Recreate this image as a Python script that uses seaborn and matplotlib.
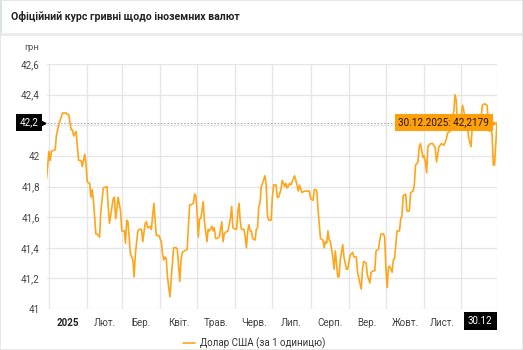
import matplotlib
matplotlib.use("Agg")
import matplotlib.pyplot as plt
import matplotlib.transforms as mtransforms
import matplotlib.dates as mdates
from matplotlib.patches import Rectangle
import pandas as pd
import seaborn as sns

TITLE = "Офіційний курс гривні щодо іноземних валют"
UNIT = "грн"
SERIES_NAME = "Долар США (за 1 одиницю)"
YEAR_START = "2025-01-01"

# day offsets from 1 January 2025 and the official UAH/USD rate on that day
day_offsets = [
    -2, 0, 1, 2, 5, 6, 8, 9, 11, 14,
    15, 16, 18, 19, 20, 22, 23, 24, 26, 27,
    29, 30, 31, 33, 34, 35, 36, 38, 39, 41,
    42, 44, 47, 48, 49, 50, 52, 53, 54, 55,
    56, 58, 59, 61, 62, 63, 64, 66, 67, 68,
    69, 70, 72, 73, 75, 76, 78, 79, 80, 82,
    83, 84, 85, 86, 87, 89, 91, 92, 93, 94,
    95, 96, 98, 99, 101, 103, 104, 106, 107, 108,
    110, 112, 113, 114, 115, 117, 118, 119, 120, 121,
    122, 123, 125, 126, 128, 129, 130, 132, 133, 134,
    135, 136, 138, 140, 141, 142, 143, 145, 147, 148,
    149, 151, 152, 153, 154, 155, 156, 158, 159, 160,
    161, 162, 163, 164, 165, 167, 168, 169, 170, 171,
    172, 173, 175, 176, 177, 178, 180, 181, 182, 184,
    185, 186, 188, 189, 191, 192, 193, 195, 196, 197,
    198, 199, 201, 202, 203, 205, 207, 209, 211, 212,
    214, 215, 216, 217, 218, 220, 222, 223, 224, 225,
    226, 227, 228, 230, 231, 232, 234, 235, 236, 238,
    239, 241, 242, 244, 246, 247, 249, 250, 253, 254,
    255, 257, 258, 260, 261, 263, 264, 265, 267, 268,
    269, 271, 272, 273, 274, 275, 276, 278, 279, 280,
    281, 282, 284, 285, 286, 287, 289, 290, 292, 293,
    295, 296, 297, 299, 300, 301, 303, 304, 305, 306,
    307, 309, 311, 313, 314, 315, 316, 318, 320, 321,
    322, 323, 325, 326, 328, 329, 330, 331, 332, 334,
    335, 336, 338, 339, 340, 342, 343, 345, 346, 347,
    349, 350, 351, 353, 355, 356, 357, 358, 359, 360,
    361, 362, 363,
]
rates = [
    41.85, 42.03, 41.97, 42.03, 42.04, 42.13, 42.21, 42.23, 42.28, 42.28,
    42.27, 42.27, 42.17, 42.17, 42.13, 42.16, 42.06, 41.97, 41.97, 41.93,
    42.01, 41.95, 41.83, 41.82, 41.73, 41.78, 41.71, 41.49, 41.49, 41.47,
    41.63, 41.79, 41.80, 41.67, 41.56, 41.61, 41.72, 41.73, 41.59, 41.65,
    41.73, 41.64, 41.51, 41.51, 41.43, 41.58, 41.57, 41.36, 41.34, 41.32,
    41.21, 41.36, 41.51, 41.52, 41.52, 41.44, 41.56, 41.57, 41.53, 41.54,
    41.52, 41.61, 41.69, 41.58, 41.48, 41.48, 41.44, 41.36, 41.32, 41.34,
    41.33, 41.21, 41.08, 41.19, 41.40, 41.40, 41.39, 41.18, 41.32, 41.37,
    41.38, 41.39, 41.55, 41.68, 41.68, 41.69, 41.75, 41.74, 41.63, 41.47,
    41.59, 41.59, 41.70, 41.57, 41.44, 41.52, 41.51, 41.54, 41.51, 41.53,
    41.46, 41.46, 41.47, 41.57, 41.44, 41.49, 41.50, 41.51, 41.59, 41.67,
    41.53, 41.52, 41.52, 41.63, 41.69, 41.57, 41.52, 41.52, 41.47, 41.40,
    41.51, 41.55, 41.51, 41.51, 41.46, 41.45, 41.52, 41.53, 41.67, 41.69,
    41.80, 41.82, 41.87, 41.81, 41.61, 41.58, 41.58, 41.73, 41.81, 41.81,
    41.73, 41.73, 41.78, 41.84, 41.80, 41.82, 41.79, 41.82, 41.81, 41.83,
    41.85, 41.87, 41.81, 41.77, 41.81, 41.76, 41.77, 41.77, 41.77, 41.72,
    41.71, 41.78, 41.78, 41.77, 41.65, 41.46, 41.45, 41.40, 41.44, 41.43,
    41.51, 41.45, 41.44, 41.34, 41.26, 41.38, 41.21, 41.21, 41.32, 41.42,
    41.34, 41.26, 41.26, 41.35, 41.37, 41.34, 41.34, 41.24, 41.13, 41.26,
    41.31, 41.30, 41.22, 41.17, 41.24, 41.25, 41.25, 41.38, 41.39, 41.45,
    41.49, 41.49, 41.47, 41.26, 41.14, 41.27, 41.28, 41.24, 41.32, 41.33,
    41.42, 41.51, 41.51, 41.59, 41.61, 41.74, 41.75, 41.64, 41.64, 41.76,
    41.77, 41.81, 41.94, 41.96, 42.06, 42.08, 41.99, 42.00, 41.96, 41.89,
    42.06, 42.08, 42.08, 42.05, 41.96, 42.01, 42.06, 42.08, 42.07, 42.09,
    42.11, 42.15, 42.16, 42.22, 42.29, 42.40, 42.36, 42.18, 42.22, 42.25,
    42.33, 42.30, 42.20, 42.20, 42.12, 42.06, 42.20, 42.22, 42.25, 42.22,
    42.25, 42.22, 42.33, 42.34, 42.33, 42.20, 42.16, 42.19, 42.14, 41.94,
    41.94, 42.08, 42.2179,
]

month_labels = ["2025", "Лют.", "Бер.", "Квіт.", "Трав.", "Черв.",
                "Лип.", "Серп.", "Вер.", "Жовт.", "Лист."]
y_ticks = [41.0, 41.2, 41.4, 41.6, 41.8, 42.0, 42.2, 42.4, 42.6]

LINE_COLOR = "#FFA51C"
TIP_COLOR = "#FF9F0A"

dates = pd.Timestamp(YEAR_START) + pd.to_timedelta(day_offsets, unit="D")
df = pd.DataFrame({"date": dates, "rate": rates})

sns.set_theme(style="white")
plt.rcParams["font.family"] = ["Roboto", "DejaVu Sans"]

W, H = 523, 350
fig = plt.figure(figsize=(W / 100, H / 100), dpi=100)
fig.patch.set_facecolor("white")

# card header: separator band, frame and accent
fig.add_artist(Rectangle((0, 1 - 36 / H), 1, 3 / H, transform=fig.transFigure,
                         facecolor="#ececec", edgecolor="none"))
fig.add_artist(Rectangle((0, 1 - 33 / H), 1.5 / W, 33 / H, transform=fig.transFigure,
                         facecolor="#d3e6da", edgecolor="none"))
fig.add_artist(Rectangle((0, 0), 1, 1, transform=fig.transFigure,
                         facecolor="none", edgecolor="#e2e2e2", lw=1.2))
fig.text(11 / W, 1 - 17 / H, TITLE, fontsize=7.6, fontweight="bold",
         color="#222222", va="center", ha="left")
fig.text(24 / W, 1 - 48 / H, UNIT, fontsize=6.8, color="#555555",
         va="center", ha="left")

left, right, top, bottom = 46.5, 497, 64, 309
ax = fig.add_axes([left / W, 1 - bottom / H, (right - left) / W, (bottom - top) / H])

sns.lineplot(data=df, x="date", y="rate", ax=ax, color=LINE_COLOR,
             linewidth=1.2, label=SERIES_NAME, zorder=3)

first_date, last_date = df["date"].iloc[0], df["date"].iloc[-1]
last_num = mdates.date2num(last_date)
last_rate = df["rate"].iloc[-1]
last_rate_short = f"{last_rate:.1f}".replace(".", ",")
ax.set_xlim(first_date, last_date)
ax.set_ylim(y_ticks[0], y_ticks[-1])

# month boundaries carry the grid, month middles carry the labels
month_starts = pd.date_range(YEAR_START, periods=12, freq="MS")
month_mids = [m + (m + pd.offsets.MonthBegin(1) - m) / 2 for m in month_starts[:len(month_labels)]]
ax.set_xticks(month_starts)
ax.set_xticklabels([""] * len(month_starts))
ax.set_xticks(month_mids, minor=True)
ax.set_xticklabels(month_labels, minor=True)
ax.set_yticks(y_ticks)
# the tick sitting under the crosshair badge is shown by the badge itself
y_labels = [f"{v:g}".replace(".", ",") for v in y_ticks]
y_labels = ["" if lab == last_rate_short else lab for lab in y_labels]
ax.set_yticklabels(y_labels)
ax.set_xlabel("")
ax.set_ylabel("")

ax.tick_params(axis="both", which="both", length=0, labelsize=7, colors="#444444")
ax.tick_params(axis="x", which="minor", pad=6.5)
ax.tick_params(axis="y", pad=4.8)
ax.xaxis.get_minorticklabels()[0].set_fontweight("bold")
ax.xaxis.get_minorticklabels()[0].set_color("#222222")

ax.grid(True, which="major", color="#e6e6e6", linewidth=1.0)
ax.grid(False, which="minor")
for s in ax.spines.values():
    s.set_visible(False)

# crosshair at the latest value
ax.axhline(last_rate, color="#b0b0b0", lw=0.8, ls=(0, (1.5, 1.5)), zorder=2)
ax.axvline(last_num, color="#b0b0b0", lw=0.8, ls=(0, (1.5, 1.5)), zorder=2)

ytrans = mtransforms.blended_transform_factory(ax.transAxes, ax.transData)
xtrans = mtransforms.blended_transform_factory(ax.transData, ax.transAxes)

ax.annotate(last_rate_short, xy=(0, last_rate), xycoords=ytrans,
            xytext=(-8, 0), textcoords="offset pixels", ha="right", va="center",
            fontsize=7, color="white", zorder=10, annotation_clip=False,
            bbox=dict(boxstyle="square,pad=0.4", fc="black", ec="none"))
ax.plot([0], [last_rate], marker=">", ms=3.5, color="black", clip_on=False, zorder=10,
        transform=mtransforms.offset_copy(ytrans, fig=fig, x=-3.5, y=0, units="dots"))

ax.annotate(f"{last_date:%d.%m}", xy=(last_num, 0), xycoords=xtrans,
            xytext=(-4.5, -12), textcoords="offset pixels", ha="right", va="center",
            fontsize=7, color="white", zorder=10, annotation_clip=False,
            bbox=dict(boxstyle="square,pad=0.45", fc="black", ec="none"))

tip = f"{last_date:%d.%m.%Y}: " + f"{last_rate:.4f}".replace(".", ",")
ax.annotate(tip, xy=(last_num, last_rate), xycoords="data",
            xytext=(-8, 0), textcoords="offset pixels", ha="right", va="center",
            fontsize=7.2, color="#221500", zorder=11, annotation_clip=False,
            bbox=dict(boxstyle="square,pad=0.35", fc=TIP_COLOR, ec="none"))
ax.plot([last_num], [last_rate], marker=">", ms=3.5, color=TIP_COLOR, clip_on=False,
        zorder=11,
        transform=mtransforms.offset_copy(ax.transData, fig=fig, x=-4, y=0, units="dots"))

ax.legend(loc="center", bbox_to_anchor=(254 / W, 1 - 343 / H),
          bbox_transform=fig.transFigure, frameon=False, fontsize=7,
          handlelength=1.25, handletextpad=0.45, labelcolor="#333333")

fig.savefig("out.png", dpi=100, facecolor="white")
